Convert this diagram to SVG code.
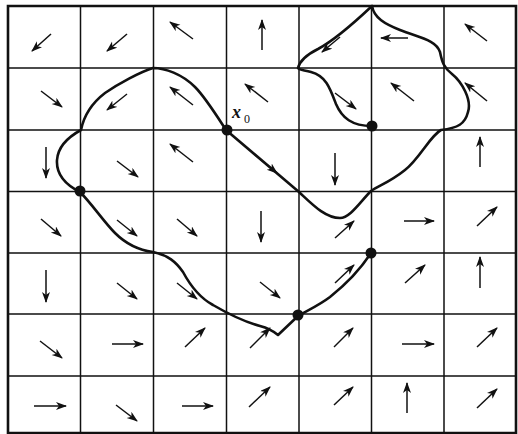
<svg xmlns="http://www.w3.org/2000/svg" width="518" height="434" viewBox="0 0 518 434">
<defs>
<marker id="ah" markerUnits="userSpaceOnUse" markerWidth="12" markerHeight="10" refX="10" refY="4" orient="auto">
<path d="M0,0 L11,4 L0,8 L3,4 z" fill="#111"/>
</marker>
</defs>
<style>
.g{stroke:#111;stroke-width:1.5;fill:none}
.b{stroke:#111;stroke-width:2.6;fill:none}
.a line{stroke:#111;stroke-width:1.5;marker-end:url(#ah)}
.c{stroke:#111;stroke-width:2.6;fill:none;stroke-linejoin:round;stroke-linecap:round}
.d{fill:#111}
.lbl{font-family:"Liberation Serif",serif;font-style:italic;font-weight:bold;fill:#111}
.sub{font-family:"Liberation Serif",serif;fill:#111}
</style>
<rect width="518" height="434" fill="#fff"/>
<g id="grid">
<path class="g" d="M80.5,6V433M153.5,6V433M226.5,6V433M299,6V433M371.5,6V433M444,6V433M8,68H516M8,130H516M8,191.5H516M8,253H516M8,314H516M8,376H516"/>
<path class="b" d="M8,6H516V433H8Z"/>
</g>
<g id="field" class="a">
<line x1="51" y1="34" x2="32" y2="51"/><line x1="127" y1="34" x2="107" y2="51"/><line x1="193" y1="39" x2="170" y2="22"/><line x1="262" y1="50" x2="262" y2="20"/><line x1="340" y1="37" x2="322" y2="52"/><line x1="408" y1="38" x2="381" y2="38"/><line x1="487" y1="41" x2="465" y2="24"/>
<line x1="41" y1="91" x2="62" y2="107"/><line x1="127" y1="94" x2="107" y2="110"/><line x1="193" y1="105" x2="170" y2="87"/><line x1="268" y1="102" x2="245" y2="84"/><line x1="335" y1="93" x2="356" y2="109"/><line x1="414" y1="101" x2="391" y2="83"/><line x1="487" y1="101" x2="465" y2="83"/>
<line x1="46" y1="147" x2="46" y2="178"/><line x1="117" y1="161" x2="138" y2="177"/><line x1="193" y1="162" x2="170" y2="144"/><line x1="255" y1="155" x2="277" y2="173"/><line x1="335" y1="153" x2="335" y2="185"/><line x1="480" y1="167" x2="480" y2="137"/>
<line x1="41" y1="219" x2="61" y2="236"/><line x1="117" y1="220" x2="137" y2="236"/><line x1="177" y1="219" x2="197" y2="236"/><line x1="261" y1="211" x2="261" y2="242"/><line x1="335" y1="238" x2="354" y2="221"/><line x1="404" y1="221" x2="434" y2="221"/><line x1="477" y1="226" x2="497" y2="207"/>
<line x1="46" y1="270" x2="46" y2="302"/><line x1="117" y1="283" x2="137" y2="299"/><line x1="177" y1="283" x2="197" y2="299"/><line x1="260" y1="282" x2="280" y2="298"/><line x1="335" y1="283" x2="354" y2="265"/><line x1="405" y1="283" x2="425" y2="265"/><line x1="480" y1="288" x2="480" y2="257"/>
<line x1="40" y1="341" x2="62" y2="358"/><line x1="112" y1="344" x2="143" y2="344"/><line x1="185" y1="347" x2="205" y2="328"/><line x1="250" y1="348" x2="270" y2="328"/><line x1="334" y1="347" x2="353" y2="328"/><line x1="402" y1="344" x2="434" y2="344"/><line x1="477" y1="347" x2="497" y2="328"/>
<line x1="34" y1="406" x2="66" y2="406"/><line x1="116" y1="405" x2="137" y2="421"/><line x1="182" y1="406" x2="213" y2="406"/><line x1="249" y1="407" x2="270" y2="387"/><line x1="334" y1="405" x2="353" y2="387"/><line x1="407" y1="413" x2="407" y2="383"/><line x1="477" y1="408" x2="497" y2="389"/>
</g>
<g id="trajectory">
<path class="c" d="M372,126 C352,126 342,118 336,104 C330,88 326,76 311,72 C304,70 299,70 298,68 C300,60 310,53 318,49 C335,40 355,22 372,6 C374,18 385,24 400,30 C420,38 436,40 440,52 C442,62 444,68 452,74 C462,82 472,100 468,112 C465,124 458,128 441,130 C430,136 420,158 405,170 C390,182 380,185 371,191 C360,202 350,218 340,218 C325,218 312,204 299,192 L226,130 C215,113 205,97 195,87 C182,74 165,68 153,68 C140,72 118,84 105,93 C92,103 84,115 81,130 C70,136 58,146 57,160 C56,175 66,185 80,192 C92,204 104,222 115,233 C125,243 138,250 153,252 C168,255 176,262 183,272 C190,285 200,298 213,305 C225,312 245,322 260,326 C268,328 272,330 278,335 L298,316 C308,310 318,306 330,297 C345,285 360,270 371,253"/>
</g>
<g id="points">
<circle class="d" cx="372" cy="126" r="5.5"/>
<circle id="x0" class="d" cx="227" cy="130" r="5.5"/>
<circle class="d" cx="80" cy="191" r="5.5"/>
<circle class="d" cx="298" cy="315" r="5.5"/>
<circle class="d" cx="371" cy="253" r="5.5"/>
</g>
<g id="label">
<text class="lbl" x="232" y="118" font-size="18">x</text><text class="sub" x="244" y="123" font-size="12">0</text>
</g>
</svg>
